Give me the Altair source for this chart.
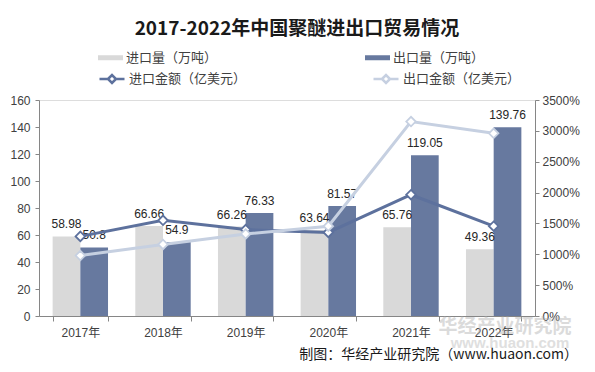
import altair as alt
import pandas as pd

years = ["2017年", "2018年", "2019年", "2020年", "2021年", "2022年"]
import_qty = [58.98, 66.66, 66.26, 63.64, 65.76, 49.36]
export_qty = [50.8, 54.9, 76.33, 81.57, 119.05, 139.76]
import_qty_labels = ["58.98", "66.66", "66.26", "63.64", "65.76", "49.36"]
export_qty_labels = ["50.8", "54.9", "76.33", "81.57", "119.05", "139.76"]
import_amt = [1290, 1550, 1400, 1355, 1965, 1455]
export_amt = [980, 1160, 1330, 1455, 3150, 2960]

bar_names = ["进口量（万吨）", "出口量（万吨）"]
line_names = ["进口金额（亿美元）", "出口金额（亿美元）"]
title_text = "2017-2022年中国聚醚进出口贸易情况"
source_text = "制图：华经产业研究院（www.huaon.com）"
watermark_text = "华经产业研究院"
watermark_url = "www.huaon.com"

bars_df = pd.DataFrame({
    "year": years * 2,
    "series": [bar_names[0]] * 6 + [bar_names[1]] * 6,
    "value": import_qty + export_qty,
    "label": import_qty_labels + export_qty_labels,
})
lines_df = pd.DataFrame({
    "year": years * 2,
    "series": [line_names[0]] * 6 + [line_names[1]] * 6,
    "amt": import_amt + export_amt,
})

FONT = "Liberation Sans, Noto Sans CJK SC"
CJK = "Noto Sans CJK SC"
AXIS_COLOR = "#868686"
LABEL_COLOR = "#404040"

x_enc = alt.X(
    "year:N", sort=years, title=None,
    scale=alt.Scale(paddingInner=0.33, paddingOuter=0.165),
    axis=alt.Axis(labelAngle=0, tickBand="extent", tickExtra=True, domainColor=AXIS_COLOR,
                  tickColor=AXIS_COLOR, tickSize=5, labelColor=LABEL_COLOR, labelFont=FONT,
                  labelFontSize=12, labelPadding=6, grid=False),
)
xoff = alt.XOffset("series:N", sort=bar_names,
                   scale=alt.Scale(domain=bar_names, paddingInner=0, paddingOuter=0))
y_left = alt.Y(
    "value:Q", title=None, scale=alt.Scale(domain=[0, 160], nice=False),
    axis=alt.Axis(values=list(range(0, 161, 20)), grid=False, domainColor=AXIS_COLOR,
                  tickColor=AXIS_COLOR, tickSize=4, labelColor=LABEL_COLOR, labelFont=FONT,
                  labelFontSize=12, labelPadding=5),
)
y_right = alt.Y(
    "amt:Q", title=None, scale=alt.Scale(domain=[0, 3500], nice=False),
    axis=alt.Axis(orient="right", values=list(range(0, 3501, 500)), grid=False,
                  domainColor=AXIS_COLOR, tickColor=AXIS_COLOR, tickSize=4,
                  labelColor=LABEL_COLOR, labelFont=FONT, labelFontSize=12, labelPadding=3,
                  labelExpr="datum.value + '%'"),
)

bars = alt.Chart(bars_df).mark_bar().encode(
    x=x_enc, xOffset=xoff, y=y_left,
    color=alt.Color(
        "series:N", sort=bar_names,
        scale=alt.Scale(domain=bar_names, range=["#d9d9d9", "#67799f"]),
        legend=alt.Legend(
            title=None, orient="none", legendX=59, legendY=-55, direction="horizontal",
            symbolType="M-1,-0.2H1V0.2H-1Z", symbolSize=625, symbolStrokeWidth=0,
            labelFont=CJK, labelFontSize=13, labelColor=LABEL_COLOR, labelOffset=3,
            columnPadding=147, padding=0,
        ),
    ),
)
bar_text = alt.Chart(bars_df).mark_text(
    dy=-8, baseline="alphabetic", font=FONT, fontSize=12, color="#262626"
).encode(x=x_enc, xOffset=xoff, y=y_left, text="label:N")

stroke_enc = alt.Stroke(
    "series:N", sort=line_names,
    scale=alt.Scale(domain=line_names, range=["#5d719d", "#c6d0e1"]),
    legend=alt.Legend(
        title=None, orient="none", legendX=59, legendY=-35, direction="horizontal",
        symbolType="M-1,0L-0.32,0M0.32,0L1,0M-0.32,0L0,-0.32L0.32,0L0,0.32Z",
        symbolSize=625, symbolStrokeWidth=2.5, symbolFillColor="white",
        labelFont=CJK, labelFontSize=13, labelColor=LABEL_COLOR, labelOffset=3,
        columnPadding=121, padding=0,
    ),
)
lines = alt.Chart(lines_df).mark_line(strokeWidth=3).encode(x=x_enc, y=y_right, stroke=stroke_enc)
points = alt.Chart(lines_df).mark_point(
    shape="diamond", filled=True, fill="white", size=90, strokeWidth=1.8, opacity=1
).encode(x=x_enc, y=y_right, stroke=stroke_enc)

title = alt.Chart(pd.DataFrame({"t": [title_text]})).mark_text(
    font=CJK, fontSize=19, fontWeight="bold", color="#1a1a1a", align="center", baseline="middle"
).encode(text="t:N", x=alt.value(258), y=alt.value(-71))
source = alt.Chart(pd.DataFrame({"t": [source_text]})).mark_text(
    font=CJK, fontSize=14, color="#1a1a1a", align="right", baseline="middle"
).encode(text="t:N", x=alt.value(539), y=alt.value(255))
watermark = alt.Chart(pd.DataFrame({"t": [watermark_text]})).mark_text(
    font=CJK, fontSize=19, fontWeight="bold", color="#b0b0b0", opacity=0.45,
    align="center", baseline="middle"
).encode(text="t:N", x=alt.value(466), y=alt.value(227))
watermark2 = alt.Chart(pd.DataFrame({"t": [watermark_url]})).mark_text(
    font=FONT, fontSize=15, fontWeight="bold", color="#b0b0b0", opacity=0.4,
    align="center", baseline="middle"
).encode(text="t:N", x=alt.value(471), y=alt.value(243))

left = alt.layer(bars, bar_text)
right = alt.layer(lines, points)

chart = alt.layer(left, right, watermark, watermark2, title, source).resolve_scale(
    y="independent"
).properties(
    width=496, height=216,
    padding={"left": 31, "top": 92, "right": 52, "bottom": 48},
    autosize=alt.AutoSizeParams(type="none"),
).configure_view(stroke=None).configure(background="white")

chart.save("out.html", embed_options={"renderer": "svg", "actions": False})
